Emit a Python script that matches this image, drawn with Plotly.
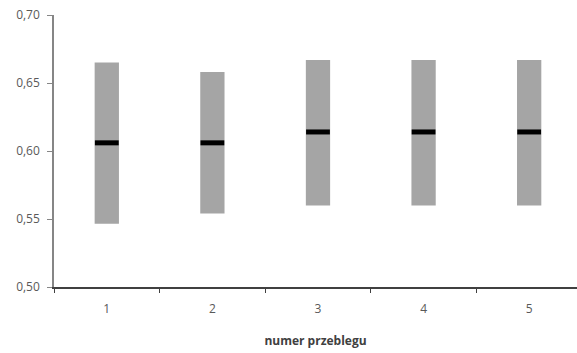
import plotly.graph_objects as go

categories = ["1", "2", "3", "4", "5"]
low = [0.5465, 0.554, 0.560, 0.560, 0.560]
high = [0.665, 0.658, 0.667, 0.667, 0.667]
median = [0.606, 0.606, 0.614, 0.614, 0.614]
y_ticks = [0.50, 0.55, 0.60, 0.65, 0.70]

fig = go.Figure()
fig.add_trace(go.Bar(
    x=categories,
    y=[h - l for h, l in zip(high, low)],
    base=low,
    width=0.23,
    marker=dict(color="#a5a5a5", line=dict(width=0)),
    hoverinfo="skip",
))
fig.add_trace(go.Scatter(
    x=categories,
    y=median,
    mode="markers",
    marker=dict(symbol="line-ew", size=17, line=dict(color="#000000", width=5)),
    hoverinfo="skip",
))

font_family = "Open Sans, Noto Sans, sans-serif"
fig.update_layout(
    width=577, height=353,
    margin=dict(l=54, r=0, t=15, b=66),
    paper_bgcolor="white", plot_bgcolor="white",
    showlegend=False,
    separators=", ",
    font=dict(family=font_family, size=12, color="#595959"),
    xaxis=dict(
        type="category",
        categoryorder="array", categoryarray=categories,
        range=[-0.5, 4.453],
        showline=True, linecolor="#404040", linewidth=1.5,
        ticks="outside", tickson="boundaries", ticklen=4, tickcolor="#404040",
        ticklabelstandoff=10,
        showgrid=False, zeroline=False,
        tickfont=dict(size=12, color="#595959"),
        title=dict(text="numer przeblegu", standoff=20,
                   font=dict(size=12, color="#404040", family=font_family, weight="bold")),
    ),
    yaxis=dict(
        range=[0.5, 0.7],
        tickvals=y_ticks,
        tickformat=".2f",
        showline=True, linecolor="#868686", linewidth=1.5,
        ticks="outside", ticklen=5, tickcolor="#868686",
        ticklabelstandoff=5,
        showgrid=False, zeroline=False,
        tickfont=dict(size=12, color="#595959"),
    ),
)

fig.write_html("out.html")
